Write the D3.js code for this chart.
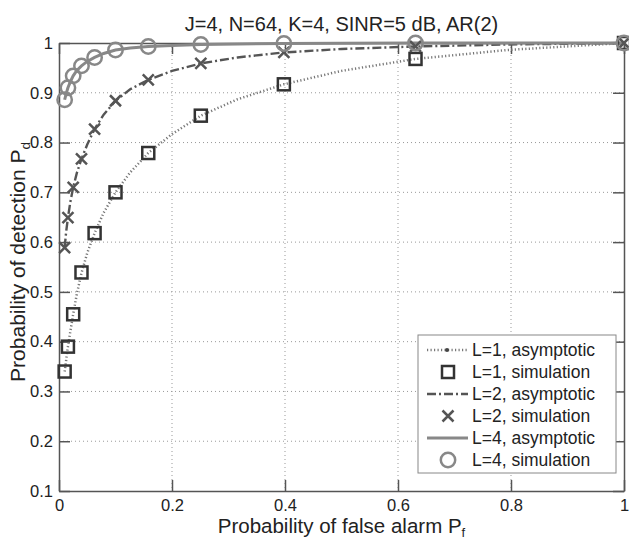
<!DOCTYPE html>
<meta charset="utf-8">
<style>
body { margin: 0; background: #fff; }
svg { font-family: "Liberation Sans", Arial, sans-serif; }
.axis path, .axis line { stroke: #555; stroke-width: 1.5; }
.axis text { font-size: 16.5px; fill: #222; }
.grid line { stroke: #999; stroke-width: 1; stroke-dasharray: 1,3; }
</style>
<svg width="629" height="542"></svg>
<script src="https://cdn.jsdelivr.net/npm/d3@7"></script>
<script>

// false alarm probabilities (log spaced) used for the simulation points
var pfSim = [0.01, 0.0158, 0.0251, 0.0398, 0.063, 0.1, 0.158, 0.251, 0.398, 0.631, 1];
// denser grid for the asymptotic curves
var pfAsym = [0.01, 0.0126, 0.0158, 0.02, 0.0251, 0.0316, 0.0398, 0.05, 0.063, 0.079,
              0.1, 0.126, 0.158, 0.2, 0.251, 0.316, 0.398, 0.5, 0.631, 0.794, 1];

var l1Asym = [0.34, 0.362, 0.39, 0.42, 0.455, 0.496, 0.538, 0.578, 0.618, 0.659,
              0.700, 0.740, 0.779, 0.817, 0.854, 0.887, 0.917, 0.944, 0.968, 0.986, 1.0];
var l2Asym = [0.589, 0.62, 0.649, 0.68, 0.71, 0.739, 0.767, 0.796, 0.827, 0.856,
              0.884, 0.907, 0.926, 0.944, 0.959, 0.971, 0.981, 0.988, 0.993, 0.997, 1.0];
var l4Asym = [0.886, 0.898, 0.910, 0.922, 0.934, 0.945, 0.954, 0.963, 0.971, 0.979,
              0.986, 0.990, 0.993, 0.995, 0.997, 0.998, 0.999, 0.9995, 1.0, 1.0, 1.0];

var l1Sim = [0.34, 0.39, 0.455, 0.539, 0.618, 0.700, 0.779, 0.854, 0.917, 0.968, 1.0];
var l2Sim = [0.589, 0.649, 0.710, 0.767, 0.827, 0.884, 0.926, 0.959, 0.981, 0.993, 1.0];
var l4Sim = [0.886, 0.910, 0.934, 0.954, 0.971, 0.986, 0.993, 0.997, 0.999, 1.0, 1.0];

var xTicks = [0, 0.2, 0.4, 0.6, 0.8, 1];
var yTicks = [0.1, 0.2, 0.3, 0.4, 0.5, 0.6, 0.7, 0.8, 0.9, 1];

var legendLabels = ["L=1, asymptotic", "L=1, simulation", "L=2, asymptotic",
                    "L=2, simulation", "L=4, asymptotic", "L=4, simulation"];

var svg = d3.select("svg"),
    margin = {top: 43, right: 5, bottom: 51, left: 59},
    width = +svg.attr("width") - margin.left - margin.right,
    height = +svg.attr("height") - margin.top - margin.bottom;

var x = d3.scaleLinear().domain([0, 1]).range([0, width]),
    y = d3.scaleLinear().domain([0.1, 1]).range([height, 0]);

var g = svg.append("g")
    .attr("transform", "translate(" + margin.left + "," + margin.top + ")");

// dotted grid
var grid = g.append("g").attr("class", "grid");
grid.selectAll(".gx").data(xTicks.slice(1, -1)).enter().append("line")
    .attr("x1", function(d) { return x(d); }).attr("x2", function(d) { return x(d); })
    .attr("y1", 0).attr("y2", height);
grid.selectAll(".gy").data(yTicks.slice(1, -1)).enter().append("line")
    .attr("y1", function(d) { return y(d); }).attr("y2", function(d) { return y(d); })
    .attr("x1", 0).attr("x2", width);

var fmt = d3.format("~g");

g.append("g").attr("class", "axis")
    .attr("transform", "translate(0," + height + ")")
    .call(d3.axisBottom(x).tickValues(xTicks).tickFormat(fmt).tickSize(-11).tickSizeOuter(0).tickPadding(8));
g.append("g").attr("class", "axis")
    .call(d3.axisTop(x).tickValues(xTicks).tickFormat("").tickSize(-11).tickSizeOuter(0));
g.append("g").attr("class", "axis")
    .call(d3.axisLeft(y).tickValues(yTicks).tickFormat(fmt).tickSize(-11).tickSizeOuter(0).tickPadding(6));
g.append("g").attr("class", "axis")
    .attr("transform", "translate(" + width + ",0)")
    .call(d3.axisRight(y).tickValues(yTicks).tickFormat("").tickSize(-11).tickSizeOuter(0));

// curves
var line = d3.line()
    .x(function(d) { return x(d[0]); })
    .y(function(d) { return y(d[1]); });

function pairs(xs, ys) { return xs.map(function(v, i) { return [v, ys[i]]; }); }

var styles = {
  l1: {stroke: "#777", width: 2.5, dash: "1.2,2.3"},
  l2: {stroke: "#555", width: 2.4, dash: "9,3,2,3"},
  l4: {stroke: "#888", width: 3, dash: null}
};

function drawCurve(data, s) {
  g.append("path").datum(data)
      .attr("fill", "none")
      .attr("stroke", s.stroke)
      .attr("stroke-width", s.width)
      .attr("stroke-dasharray", s.dash)
      .attr("d", line);
}

drawCurve(pairs(pfAsym, l1Asym), styles.l1);
drawCurve(pairs(pfAsym, l2Asym), styles.l2);
drawCurve(pairs(pfAsym, l4Asym), styles.l4);

function square(sel) {
  sel.append("rect").attr("x", -6).attr("y", -6).attr("width", 12).attr("height", 12)
      .attr("fill", "none").attr("stroke", "#333").attr("stroke-width", 2.5);
}
function cross(sel) {
  sel.append("path").attr("d", "M-5.5,-5.5L5.5,5.5M-5.5,5.5L5.5,-5.5")
      .attr("stroke", "#555").attr("stroke-width", 2.5);
}
function circle(sel) {
  sel.append("circle").attr("r", 7.2)
      .attr("fill", "none").attr("stroke", "#888").attr("stroke-width", 2.5);
}

function drawMarkers(data, fn) {
  g.append("g").selectAll("g").data(data).enter().append("g")
      .attr("transform", function(d) { return "translate(" + x(d[0]) + "," + y(d[1]) + ")"; })
      .call(fn);
}

drawMarkers(pairs(pfSim, l1Sim), square);
drawMarkers(pairs(pfSim, l2Sim), cross);
drawMarkers(pairs(pfSim, l4Sim), circle);

// title and labels
svg.append("text")
    .attr("x", margin.left + width / 2).attr("y", 31)
    .attr("text-anchor", "middle")
    .style("font-size", "20px").style("fill", "#222")
    .text("J=4, N=64, K=4, SINR=5 dB, AR(2)");

var xl = svg.append("text")
    .attr("x", margin.left + width / 2).attr("y", 533)
    .attr("text-anchor", "middle")
    .style("font-size", "20.5px").style("fill", "#222")
    .text("Probability of false alarm P");
xl.append("tspan").attr("dy", 4).style("font-size", "13px").text("f");

var yl = svg.append("text")
    .attr("transform", "translate(25,262) rotate(-90)")
    .attr("text-anchor", "middle")
    .style("font-size", "21px").style("fill", "#222")
    .text("Probability of detection P");
yl.append("tspan").attr("dy", 5).style("font-size", "13.5px").text("d");

// legend
var lg = svg.append("g").attr("transform", "translate(418,335)");
lg.append("rect").attr("width", 198).attr("height", 138)
    .attr("fill", "#fff").attr("stroke", "#888").attr("stroke-width", 1);

var rows = lg.selectAll(".row").data(legendLabels).enter().append("g")
    .attr("transform", function(d, i) { return "translate(0," + (15 + i * 22) + ")"; });

rows.append("text")
    .attr("x", 54).attr("dy", "0.35em")
    .style("font-size", "17.5px").style("fill", "#222")
    .text(function(d) { return d; });

var sampleStyles = [styles.l1, null, styles.l2, null, styles.l4, null];
rows.each(function(d, i) {
  var r = d3.select(this);
  var s = sampleStyles[i];
  if (s) {
    r.append("line").attr("x1", 9).attr("x2", 50)
        .attr("stroke", s.stroke).attr("stroke-width", s.width)
        .attr("stroke-dasharray", s.dash);
    if (i === 0) r.append("circle").attr("cx", 29).attr("r", 2).attr("fill", "#444");
  } else {
    var m = r.append("g").attr("transform", "translate(30,0)");
    [square, null, cross, null, circle][i - 1](m);
  }
});

</script>
